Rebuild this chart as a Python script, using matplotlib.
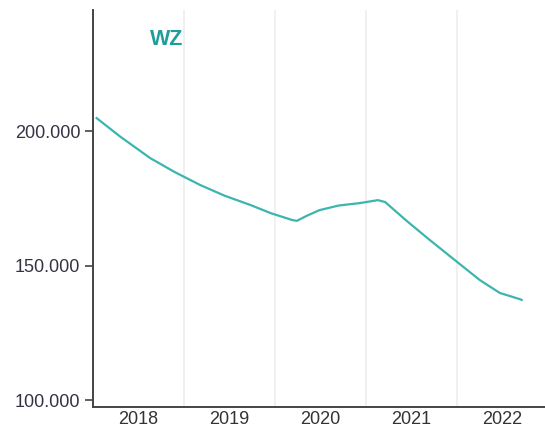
import numpy as np
import matplotlib.pyplot as plt
from matplotlib.ticker import FuncFormatter

plt.rcParams['font.family'] = ['Liberation Sans', 'DejaVu Sans']

# time as fractional year
t = [2018.04, 2018.3, 2018.63, 2018.9, 2019.18, 2019.45, 2019.73, 2019.95,
     2020.19, 2020.24, 2020.35, 2020.49, 2020.7, 2020.93, 2021.13, 2021.21,
     2021.45, 2021.7, 2021.98, 2022.25, 2022.47, 2022.69, 2022.71]
wz = [204800, 197900, 189900, 184700, 179900, 175900, 172500, 169500,
      166900, 166600, 168500, 170600, 172300, 173200, 174300, 173600,
      166500, 159500, 151900, 144600, 139800, 137500, 137200]
years = [2018, 2019, 2020, 2021, 2022]
yticks = [100000, 150000, 200000]

fig = plt.figure(figsize=(5.45, 4.33), dpi=100)
ax = fig.add_axes([0.1706, 0.06, 0.835, 0.917])

ax.plot(t, wz, color='#3cb5ae', lw=1.6, solid_joinstyle='round')

ax.set_xlim(2018, 2023)
ax.set_ylim(97400, 245000)

for y in years[1:]:
    ax.axvline(y, color='#eeeeee', lw=1.2, zorder=0)

ax.set_xticks([y + 0.5 for y in years])
ax.set_xticklabels([str(y) for y in years])
ax.tick_params(axis='x', length=0, pad=3, labelsize=13, labelcolor='#333333')

ax.set_yticks(yticks)
ax.yaxis.set_major_formatter(FuncFormatter(lambda v, p: f'{int(v):,}'.replace(',', '.')))
ax.tick_params(axis='y', length=6, width=1.2, color='#444444', pad=3,
               labelsize=13, labelcolor='#333344')

for s in ['top', 'right']:
    ax.spines[s].set_visible(False)
for s in ['left', 'bottom']:
    ax.spines[s].set_color('#444444')
    ax.spines[s].set_linewidth(1.4)

ax.text(0.162, 0.925, 'WZ', transform=ax.transAxes, color='#1f9e99',
        fontsize=15.5, fontweight='bold', ha='center', va='center')

fig.savefig('out.png', dpi=100)
